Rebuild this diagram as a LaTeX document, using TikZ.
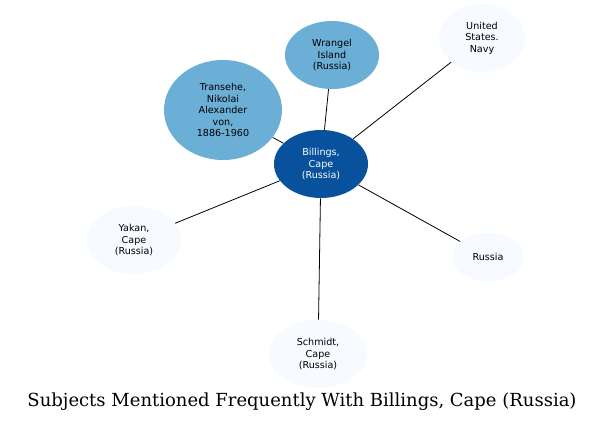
\documentclass[tikz,border=0pt]{standalone}
\usepackage{fontspec}
\newfontfamily\nodefont{DejaVu Sans}
\setmainfont{DejaVu Serif}
\usetikzlibrary{shapes.geometric}
\definecolor{dark}{HTML}{08519C}
\definecolor{mid}{HTML}{6BAED6}
\definecolor{pale}{HTML}{F7FBFF}
\tikzset{
  ell/.style={ellipse, draw=none, align=center, inner sep=0pt, font=\nodefont\fontsize{7.2}{8.6}\selectfont},
}
\begin{document}
\begin{tikzpicture}[x=0.75pt,y=-0.75pt]
\useasboundingbox[fill=white] (0,0) rectangle (612,424);
\node[ell, fill=dark, text=white, minimum width=0.75*94pt, minimum height=0.75*68pt] (b) at (321,164) {Billings,\\Cape\\(Russia)};
\node[ell, fill=mid, minimum width=0.75*94pt, minimum height=0.75*68pt] (w) at (332,55) {Wrangel\\Island\\(Russia)};
\node[ell, fill=mid, minimum width=0.75*118pt, minimum height=0.75*100pt] (t) at (223,110) {Transehe,\\Nikolai\\Alexander\\von,\\1886-1960};
\node[ell, fill=pale, minimum width=0.75*86pt, minimum height=0.75*68pt] (n) at (482,38) {United\\States.\\Navy};
\node[ell, fill=pale, minimum width=0.75*94pt, minimum height=0.75*68pt] (y) at (134,240) {Yakan,\\Cape\\(Russia)};
\node[ell, fill=pale, minimum width=0.75*72pt, minimum height=0.75*48pt] (r) at (488,257) {Russia};
\node[ell, fill=pale, minimum width=0.75*98pt, minimum height=0.75*68pt] (s) at (318,354) {Schmidt,\\Cape\\(Russia)};
\foreach \x in {w,t,n,y,r,s} \draw[black, line width=0.6pt] (b) -- (\x);
\node[font=\fontsize{13.5}{16}\selectfont] (title) at (302,402) {Subjects Mentioned Frequently With Billings, Cape (Russia)};
\end{tikzpicture}
\end{document}
